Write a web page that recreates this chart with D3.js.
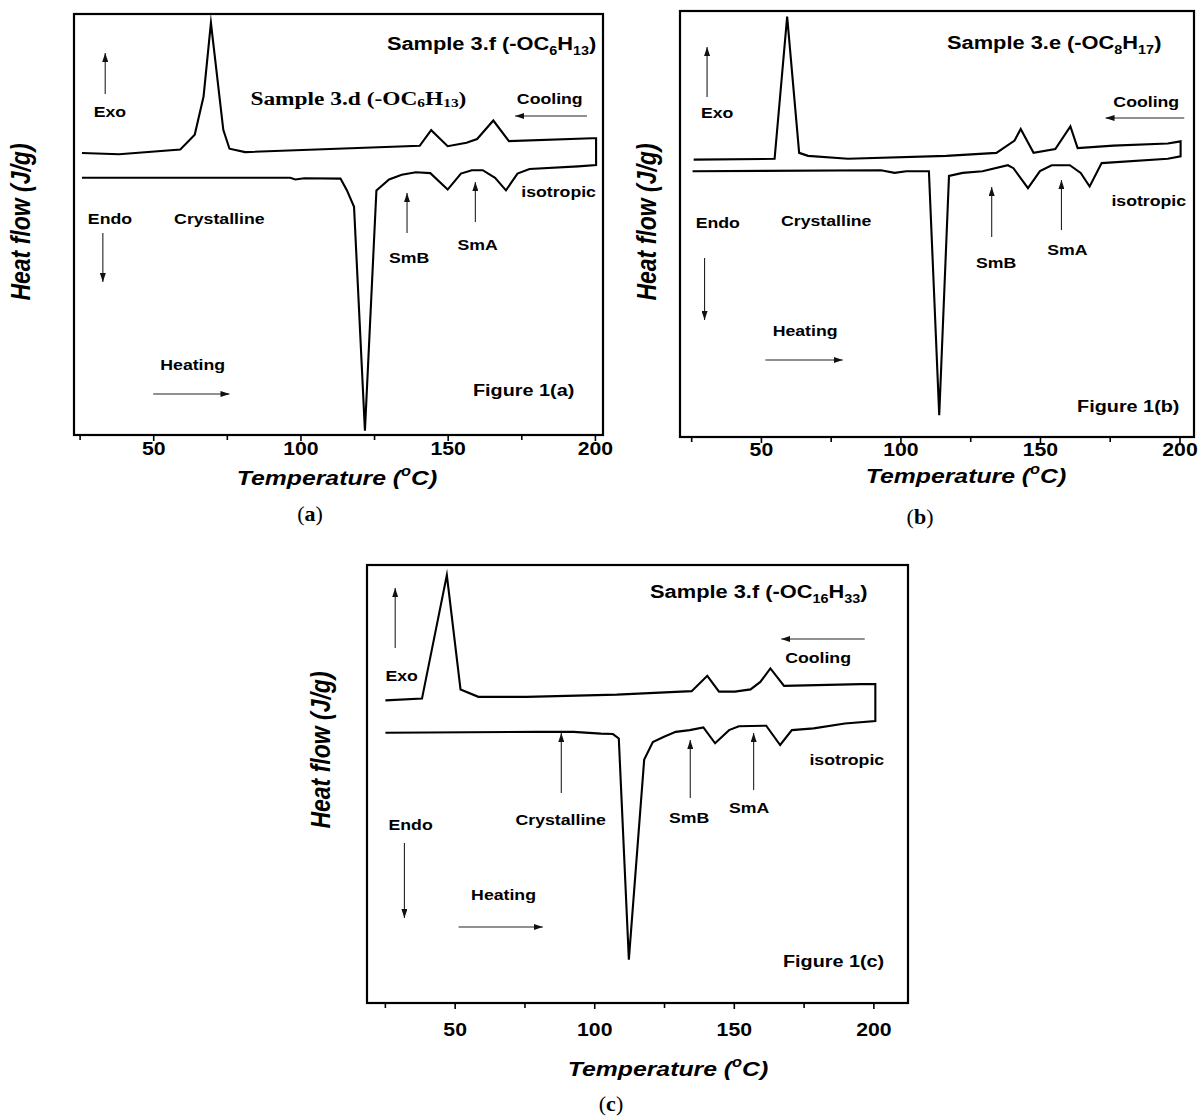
<!DOCTYPE html>
<html>
<head>
<meta charset="utf-8">
<script src="https://cdn.jsdelivr.net/npm/d3@7"></script>
<style>
  html, body { margin: 0; background: #fff; }
  svg { display: block; }
</style>
</head>
<body>
<script>
// DSC thermograms: heat flow (arbitrary units, 0–100 of the plot height) vs temperature (°C).
// Each trace is a heating run followed by the cooling run back from 200 °C.

const tempTicks = [50, 100, 150, 200];
const minorTempTicks = [25, 75, 125, 175];

// Sample 3.d / 3.f (-OC6H13)
const heatingA = [[25.8,61.1],[96.5,61.1],[98.3,60.7],[101.3,61.0],[113.6,60.9],[115.8,58.1],[118.2,54.2],[121.9,1.0],[125.8,58.1],[130.1,60.7],[134.4,61.8],[139.2,62.4],[144.1,62.2],[150.0,58.3],[154.5,62.1],[158.2,62.9],[161.9,62.9],[166.1,61.1],[169.8,58.1],[173.7,62.1],[177.8,63.2],[194.3,63.8],[200.4,64.1]];
const coolingA = [[200.4,70.5],[199.1,70.5],[170.8,69.8],[165.5,74.7],[160.0,70.3],[156.4,69.4],[150.0,68.6],[144.4,72.4],[140.5,68.7],[81.2,67.2],[75.9,68.0],[73.8,72.5],[69.6,97.9],[67.1,80.4],[64.1,71.3],[59.2,67.8],[38.4,66.7],[25.8,67.0]];

// Sample 3.e (-OC8H17)
const heatingB = [[25.5,62.4],[93.0,62.6],[97.9,62.0],[102.1,62.4],[110.2,62.4],[113.9,5.1],[117.4,61.3],[122.3,62.0],[129.4,62.4],[138.5,63.8],[140.5,63.1],[145.7,58.4],[150.0,62.4],[154.2,63.8],[160.7,63.8],[164.6,62.0],[167.8,58.8],[172.1,64.3],[195.8,65.3],[200.4,65.9]];
const coolingB = [[200.4,69.4],[195.8,68.9],[176.3,68.4],[163.5,67.8],[160.9,72.9],[155.5,67.6],[147.7,66.7],[143.1,72.3],[140.9,69.6],[134.4,66.7],[116.4,66.0],[81.2,65.3],[66.9,66.0],[63.7,66.7],[59.4,98.7],[54.9,65.3],[25.9,65.1]];

// Sample 3.f (-OC16H33)
const heatingC = [[25.2,61.7],[79.9,61.9],[92.6,61.9],[102.4,61.5],[106.7,61.4],[108.8,60.4],[112.4,9.9],[117.9,55.6],[121.0,59.6],[125.0,60.8],[129.2,61.9],[134.2,62.3],[139.1,62.9],[143.3,59.3],[148.3,62.3],[151.8,63.2],[161.6,63.3],[166.6,58.9],[170.8,62.3],[178.6,62.7],[189.8,63.8],[200.7,64.4]];
const coolingC = [[200.7,72.8],[195.5,72.8],[168.0,72.4],[163.1,76.4],[159.5,73.3],[156.0,71.6],[150.4,71.1],[144.7,71.1],[140.5,74.7],[134.9,71.2],[108.1,70.4],[75.7,69.9],[58.5,69.9],[52.1,71.6],[47.2,97.7],[38.3,69.5],[25.2,69.1]];

const W = 1198, H = 1117;
const SANS = "'Liberation Sans', Arial, Helvetica, sans-serif";
const SERIF = "'Liberation Serif', 'Times New Roman', serif";
const STRETCH = 1.18; // lettering is drawn slightly widened

const sub = t => ({ t, sub: true });
const sup = t => ({ t, sup: true });

// Panel layout: x in °C (through the panel's scale), y in page pixels.
const panels = [
  {
    heating: heatingA, cooling: coolingA,
    xDomain: [23.1, 202.75], xRange: [74, 603], yRange: [435, 14],
    tickY: 455, axisTitle: [337, 485], yTitle: [30, 222], caption: [310, 521, "a"],
    notes: [
      { at: [200.5, 50], anchor: "end", size: 18.5, parts: ["Sample 3.f (-OC", sub("6"), "H", sub("13"), ")"] },
      { at: [83, 105], size: 19.5, family: SERIF, sx: 1.2, parts: ["Sample 3.d (-OC", sub("6"), "H", sub("13"), ")"], subShift: 0.12 },
      { at: [29.8, 117], parts: ["Exo"] },
      { at: [173.5, 104], parts: ["Cooling"] },
      { at: [175, 197], parts: ["isotropic"] },
      { at: [27.8, 224], parts: ["Endo"] },
      { at: [57.1, 224], parts: ["Crystalline"] },
      { at: [130.1, 263], parts: ["SmB"] },
      { at: [153.3, 250], parts: ["SmA"] },
      { at: [52.4, 370], parts: ["Heating"] },
      { at: [158.6, 396], size: 16.8, parts: ["Figure 1(a)"] }
    ],
    arrows: [
      { x1: 33.7, y1: 94, x2: 33.7, y2: 53 },
      { x1: 197.3, y1: 116, x2: 172.9, y2: 116 },
      { x1: 32.9, y1: 233, x2: 32.9, y2: 282 },
      { x1: 136.2, y1: 233, x2: 136.2, y2: 193 },
      { x1: 159.4, y1: 222, x2: 159.4, y2: 182 },
      { x1: 50, y1: 394, x2: 75.9, y2: 394 }
    ]
  },
  {
    heating: heatingB, cooling: coolingB,
    xDomain: [21, 205.2], xRange: [680, 1194], yRange: [437, 11],
    tickY: 456, axisTitle: [966, 483], yTitle: [656, 222], caption: [920, 524, "b"],
    notes: [
      { at: [116.7, 49], size: 18.5, parts: ["Sample 3.e (-OC", sub("8"), "H", sub("17"), ")"] },
      { at: [28.5, 118], parts: ["Exo"] },
      { at: [176.3, 107], parts: ["Cooling"] },
      { at: [175.6, 206], parts: ["isotropic"] },
      { at: [26.6, 228], parts: ["Endo"] },
      { at: [57.2, 226], parts: ["Crystalline"] },
      { at: [127.1, 268], parts: ["SmB"] },
      { at: [152.6, 255], parts: ["SmA"] },
      { at: [54.2, 336], parts: ["Heating"] },
      { at: [163.3, 412], size: 16.8, parts: ["Figure 1(b)"] }
    ],
    arrows: [
      { x1: 30.7, y1: 97, x2: 30.7, y2: 47 },
      { x1: 201.7, y1: 118, x2: 173.5, y2: 118 },
      { x1: 132.7, y1: 237, x2: 132.7, y2: 187 },
      { x1: 157.7, y1: 230, x2: 157.7, y2: 180 },
      { x1: 29.8, y1: 258, x2: 29.8, y2: 320 },
      { x1: 51.6, y1: 360, x2: 79.3, y2: 360 }
    ]
  },
  {
    heating: heatingC, cooling: coolingC,
    xDomain: [18.6, 212.4], xRange: [367, 908], yRange: [1003, 565],
    tickY: 1036, axisTitle: [668, 1076], yTitle: [330, 750], caption: [611, 1111, "c"],
    notes: [
      { at: [120, 598], size: 18.5, parts: ["Sample 3.f (-OC", sub("16"), "H", sub("33"), ")"] },
      { at: [25.2, 681], parts: ["Exo"] },
      { at: [168.4, 663], parts: ["Cooling"] },
      { at: [177.1, 765], parts: ["isotropic"] },
      { at: [71.8, 825], parts: ["Crystalline"] },
      { at: [126.8, 823], parts: ["SmB"] },
      { at: [148.3, 813], parts: ["SmA"] },
      { at: [26.3, 830], parts: ["Endo"] },
      { at: [55.9, 900], parts: ["Heating"] },
      { at: [167.6, 967], size: 16.8, parts: ["Figure 1(c)"] }
    ],
    arrows: [
      { x1: 28.7, y1: 648, x2: 28.7, y2: 588 },
      { x1: 196.9, y1: 639, x2: 167, y2: 639 },
      { x1: 88.2, y1: 793, x2: 88.2, y2: 733 },
      { x1: 134.4, y1: 798, x2: 134.4, y2: 740 },
      { x1: 157.1, y1: 790, x2: 157.1, y2: 733 },
      { x1: 32, y1: 843, x2: 32, y2: 918 },
      { x1: 51.4, y1: 927, x2: 81.6, y2: 927 }
    ]
  }
];

const svg = d3.select("body").append("svg")
  .attr("width", W).attr("height", H)
  .attr("viewBox", `0 0 ${W} ${H}`);

svg.append("rect").attr("width", W).attr("height", H).attr("fill", "#fff");

svg.append("defs").append("marker")
  .attr("id", "arrowHead")
  .attr("viewBox", "0 0 9 6")
  .attr("refX", 9).attr("refY", 3)
  .attr("markerWidth", 9).attr("markerHeight", 6)
  .attr("markerUnits", "userSpaceOnUse")
  .attr("orient", "auto")
  .append("path").attr("d", "M0,0L9,3L0,6Z").attr("fill", "#111");

// Text with optional sub/superscript pieces.
function writeText(g, x, y, parts, o = {}) {
  const size = o.size || 15;
  const sx = o.sx || STRETCH;
  const shiftSub = (o.subShift != null ? o.subShift : 0.28) * size;
  const t = g.append("text")
    .attr("transform", o.rotate
      ? `translate(${x},${y}) rotate(-90) scale(1,${sx})`
      : `translate(${x},${y}) scale(${sx},1)`)
    .attr("font-family", o.family || SANS)
    .attr("font-weight", o.weight || "bold")
    .attr("font-style", o.style || "normal")
    .attr("font-size", size)
    .attr("text-anchor", o.anchor || "start")
    .attr("fill", "#000");
  let shift = 0;
  parts.forEach(p => {
    const piece = typeof p === "string" ? { t: p } : p;
    const target = piece.sub ? shiftSub : piece.sup ? -0.42 * size : 0;
    t.append("tspan")
      .attr("dy", target - shift)
      .attr("font-size", piece.sub || piece.sup ? size * 0.66 : size)
      .text(piece.t);
    shift = target;
  });
  return t;
}

panels.forEach(p => {
  const x = d3.scaleLinear().domain(p.xDomain).range(p.xRange);
  const y = d3.scaleLinear().domain([0, 100]).range(p.yRange);
  const g = svg.append("g");

  // bottom axis: labelled major ticks and plain minor ticks
  const axisG = g.append("g").attr("transform", `translate(0,${p.yRange[0]})`);
  axisG.append("g")
    .call(d3.axisBottom(x).tickValues(minorTempTicks).tickSize(5).tickFormat(""))
    .call(s => s.select(".domain").remove());
  axisG.append("g")
    .call(d3.axisBottom(x).tickValues(tempTicks).tickSize(6).tickFormat(d3.format("d")))
    .call(s => s.select(".domain").remove());
  axisG.selectAll(".tick line").attr("stroke", "#000").attr("stroke-width", 1.6);
  axisG.selectAll(".tick text")
    .attr("y", p.tickY - p.yRange[0]).attr("dy", 0)
    .attr("font-family", SANS).attr("font-weight", "bold").attr("font-size", 18)
    .attr("fill", "#000")
    .attr("transform", `scale(${STRETCH},1)`);

  // plot frame
  g.append("rect")
    .attr("x", p.xRange[0]).attr("y", p.yRange[1])
    .attr("width", p.xRange[1] - p.xRange[0])
    .attr("height", p.yRange[0] - p.yRange[1])
    .attr("fill", "none").attr("stroke", "#000").attr("stroke-width", 2.2);

  // heating run then cooling run, drawn as one continuous trace
  const line = d3.line().x(d => x(d[0])).y(d => y(d[1]));
  g.append("path")
    .datum(p.heating.concat(p.cooling))
    .attr("d", line)
    .attr("fill", "none").attr("stroke", "#000")
    .attr("stroke-width", 2.1).attr("stroke-linejoin", "miter").attr("stroke-miterlimit", 10);

  // annotation arrows
  g.selectAll(".note-arrow").data(p.arrows).join("line")
    .attr("class", "note-arrow")
    .attr("x1", d => x(d.x1)).attr("y1", d => d.y1)
    .attr("x2", d => x(d.x2)).attr("y2", d => d.y2)
    .attr("stroke", "#222").attr("stroke-width", 1.1)
    .attr("marker-end", "url(#arrowHead)");

  // annotation labels
  p.notes.forEach(n => writeText(g, x(n.at[0]), n.at[1], n.parts, {
    size: n.size || 15, anchor: n.anchor, family: n.family, sx: n.sx, subShift: n.subShift
  }));

  // axis titles
  writeText(g, p.axisTitle[0], p.axisTitle[1], ["Temperature (", sup("o"), "C)"],
    { size: 21, style: "italic", anchor: "middle" });
  writeText(g, p.yTitle[0], p.yTitle[1], ["Heat flow (J/g)"],
    { size: 23, style: "italic", anchor: "middle", rotate: true });

  // panel caption
  const cap = g.append("text")
    .attr("x", p.caption[0]).attr("y", p.caption[1])
    .attr("text-anchor", "middle")
    .attr("font-family", SERIF).attr("font-size", 22).attr("fill", "#000");
  cap.append("tspan").text("(");
  cap.append("tspan").attr("font-weight", "bold").text(p.caption[2]);
  cap.append("tspan").text(")");
});
</script>
</body>
</html>
